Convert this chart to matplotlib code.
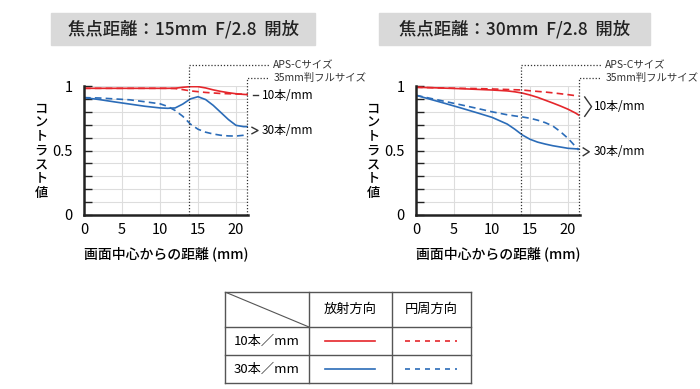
import matplotlib.pyplot as plt
import numpy as np

plt.rcParams['font.family'] = ['Noto Sans CJK JP', 'DejaVu Sans']

RED = '#e5262b'
BLUE = '#2b6cb8'

# image height (mm) and contrast values
x_15 = [0, 2, 4, 6, 8, 10, 11, 12, 13, 14, 15, 16, 17, 18, 19, 20, 21, 21.6]
r10_15 = [0.982, 0.982, 0.982, 0.982, 0.982, 0.982, 0.982, 0.983, 0.99, 0.995, 0.995, 0.985, 0.97, 0.958, 0.948, 0.94, 0.935, 0.933]
t10_15 = [0.982, 0.982, 0.982, 0.982, 0.982, 0.982, 0.982, 0.98, 0.972, 0.962, 0.956, 0.95, 0.946, 0.942, 0.94, 0.938, 0.936, 0.935]
r30_15 = [0.91, 0.895, 0.877, 0.86, 0.843, 0.83, 0.827, 0.83, 0.86, 0.9, 0.917, 0.895, 0.85, 0.795, 0.74, 0.695, 0.685, 0.685]
t30_15 = [0.91, 0.907, 0.9, 0.893, 0.878, 0.862, 0.842, 0.81, 0.765, 0.705, 0.665, 0.642, 0.628, 0.618, 0.613, 0.612, 0.618, 0.625]

x_30 = [0, 2, 4, 6, 8, 10, 12, 13, 14, 15, 16, 17, 18, 19, 20, 21, 21.4]
r10_30 = [0.99, 0.987, 0.983, 0.979, 0.974, 0.969, 0.962, 0.955, 0.945, 0.93, 0.912, 0.89, 0.868, 0.845, 0.82, 0.79, 0.775]
t10_30 = [0.99, 0.987, 0.984, 0.982, 0.98, 0.977, 0.973, 0.971, 0.969, 0.963, 0.958, 0.953, 0.947, 0.94, 0.933, 0.925, 0.922]
r30_30 = [0.928, 0.895, 0.862, 0.828, 0.793, 0.757, 0.705, 0.665, 0.62, 0.587, 0.565, 0.55, 0.537, 0.527, 0.517, 0.513, 0.512]
t30_30 = [0.928, 0.903, 0.878, 0.853, 0.827, 0.80, 0.777, 0.768, 0.76, 0.75, 0.735, 0.716, 0.69, 0.646, 0.594, 0.53, 0.504]

titles = ['焦点距離：15mm  F/2.8  開放', '焦点距離：30mm  F/2.8  開放']
aps_c = 13.8
full = [21.5, 21.4]
row_labels = ['10本／mm', '30本／mm']
col_labels = ['放射方向', '円周方向']

W, H = 700, 389
fig = plt.figure(figsize=(7, 3.89), dpi=100)


def px_axes(x0, y0, x1, y1):
    return fig.add_axes([x0 / W, 1 - y1 / H, (x1 - x0) / W, (y1 - y0) / H])


panels = [
    (84, x_15, r10_15, t10_15, r30_15, t30_15, 51, 315),
    (416, x_30, r10_30, t10_30, r30_30, t30_30, 379, 650),
]

for i, (left, xs, r10, t10, r30, t30, bx0, bx1) in enumerate(panels):
    ax = px_axes(left, 86, left + 21.6 * 7.6, 215)
    ax.set_xlim(0, 21.6)
    ax.set_ylim(0, 1)
    for y in np.arange(0.1, 1.01, 0.1):
        ax.axhline(y, color='#dddddd', lw=0.8, zorder=0)
    for xv in [5, 10, 15, 20]:
        ax.axvline(xv, color='#dddddd', lw=0.8, zorder=0)
    ax.plot(xs, r10, color=RED, lw=1.2)
    ax.plot(xs, t10, color=RED, lw=1.2, ls=(0, (4, 2.5)))
    ax.plot(xs, r30, color=BLUE, lw=1.2)
    ax.plot(xs, t30, color=BLUE, lw=1.2, ls=(0, (4, 2.5)))

    for s in ['top', 'right']:
        ax.spines[s].set_visible(False)
    for s in ['left', 'bottom']:
        ax.spines[s].set_linewidth(1.8)
        ax.spines[s].set_color('#222222')
    ax.set_yticks(np.arange(0, 1.01, 0.1))
    ax.set_yticklabels(['0', '', '', '', '', '0.5', '', '', '', '', '1'])
    ax.set_xticks([0, 5, 10, 15, 20])
    ax.tick_params(axis='y', direction='in', length=6, width=1, color='#222222',
                   labelsize=10.5, pad=8)
    ax.tick_params(axis='x', length=0, labelsize=10.5, pad=6)

    # image-circle markers
    fx = full[i]
    ax.plot([aps_c, aps_c, 24.5], [0, 1.163, 1.163], color='#333333', lw=0.9,
            ls=(0, (1, 1.5)), clip_on=False)
    ax.plot([fx, fx, 24.2], [0, 1.062, 1.062], color='#333333', lw=0.9,
            ls=(0, (1, 1.5)), clip_on=False)
    ax.text(24.9, 1.163, 'APS-Cサイズ', fontsize=7.5, va='center', ha='left',
            color='#333333')
    ax.text(24.9, 1.062, '35mm判フルサイズ', fontsize=7.5, va='center', ha='left',
            color='#333333')

    if i == 0:
        ax.plot([22.2, 22.9], [0.93, 0.93], color='#333333', lw=1, clip_on=False)
        ax.plot([22.1, 22.9, 22.1], [0.68, 0.655, 0.63], color='#333333', lw=1,
                clip_on=False)
        ax.text(23.4, 0.93, '10本/mm', fontsize=8.5, va='center')
        ax.text(23.4, 0.655, '30本/mm', fontsize=8.5, va='center')
    else:
        ax.plot([22.2, 23.1, 22.2], [0.915, 0.84, 0.765], color='#333333', lw=1,
                clip_on=False)
        ax.plot([22.0, 22.8, 22.0], [0.52, 0.49, 0.46], color='#333333', lw=1,
                clip_on=False)
        ax.text(23.4, 0.84, '10本/mm', fontsize=8.5, va='center')
        ax.text(23.4, 0.49, '30本/mm', fontsize=8.5, va='center')

    ax.text(-0.26, 0.5, '\n'.join('コントラスト値'), transform=ax.transAxes,
            fontsize=9.5, fontweight='medium', ha='center', va='center',
            linespacing=1.0)
    ax.text(0.5, -0.3, '画面中心からの距離 (mm)', transform=ax.transAxes,
            fontsize=10, fontweight='medium', ha='center', va='center')

    # title box
    fig.patches.append(plt.Rectangle((bx0 / W, 1 - 45 / H), (bx1 - bx0) / W, 32 / H,
                                     transform=fig.transFigure, color='#d9d9d9',
                                     zorder=0))
    fig.text((bx0 + bx1) / 2 / W, 1 - 29.5 / H, titles[i], fontsize=12.5,
             fontweight='medium', ha='center', va='center', color='#222222')

# legend table
tx = [225, 309, 392, 471]
ty = [292, 327, 355, 383]
tab = px_axes(tx[0], ty[0], tx[-1], ty[-1])
tab.set_xlim(tx[0], tx[-1])
tab.set_ylim(ty[-1], ty[0])
tab.axis('off')
lc = '#555555'
for xv in tx:
    tab.plot([xv, xv], [ty[0], ty[-1]], color=lc, lw=1, clip_on=False)
for yv in ty:
    tab.plot([tx[0], tx[-1]], [yv, yv], color=lc, lw=1, clip_on=False)
tab.plot([tx[0], tx[1]], [ty[0], ty[1]], color=lc, lw=0.8)
for j, lab in enumerate(col_labels):
    tab.text((tx[j + 1] + tx[j + 2]) / 2, (ty[0] + ty[1]) / 2, lab, fontsize=9.5,
             ha='center', va='center')
for k, (lab, col) in enumerate(zip(row_labels, [RED, BLUE])):
    yc = (ty[k + 1] + ty[k + 2]) / 2
    tab.text((tx[0] + tx[1]) / 2, yc, lab, fontsize=9.5, ha='center', va='center')
    tab.plot([325, 375], [yc, yc], color=col, lw=1.2)
    tab.plot([405, 457], [yc, yc], color=col, lw=1.2, ls=(0, (3, 3)))

fig.savefig('out.png', dpi=100)
